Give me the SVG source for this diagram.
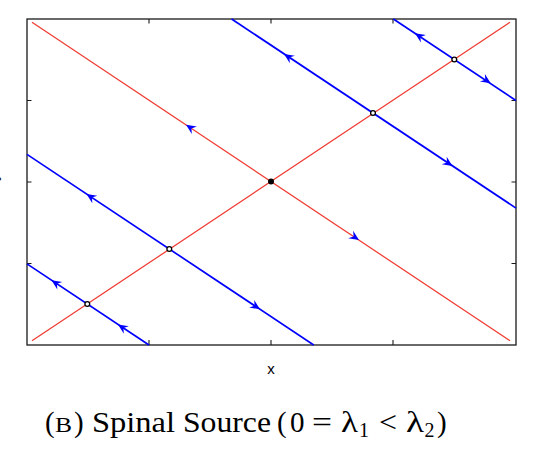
<svg xmlns="http://www.w3.org/2000/svg" xmlns:xlink="http://www.w3.org/1999/xlink" width="548" height="458" viewBox="0 0 548 458">
<style>
.frame{fill:none;stroke:#1a1a1a;stroke-width:1.3}
.tick{stroke:#1a1a1a;stroke-width:1.1}
.red{stroke:#f03c32;stroke-width:1.25;fill:none}
.blue{stroke:#0000ff;stroke-width:1.7;fill:none}
.fp{fill:#fff;stroke:#000;stroke-width:1.3}
.lbl{font-family:"Liberation Sans",Arial,sans-serif;font-size:15px;fill:#000}
.cap{font-family:"Liberation Serif","Times New Roman",serif;font-size:29px;fill:#000}
.sc{font-family:"Liberation Serif","Times New Roman",serif;font-size:21px;fill:#000}
.sub{font-family:"Liberation Serif","Times New Roman",serif;font-size:20px;fill:#000}
</style>
<defs>
<path id="ah" d="M0,0 L-10,-4.5 L-6.5,0 L-10,4.5 Z" fill="#0000ff"/>
</defs>
<rect width="548" height="458" fill="#fff"/>
<g id="axes">
<rect class="frame" x="27" y="19" width="489" height="326"/>
<path class="tick" d="M149,19v4.5M271,19v4.5M393,19v4.5M149,345v-5M271,345v-5M393,345v-5M27,100.5h4.5M27,182h4.5M27,263.5h4.5M516,100.5h-4.5M516,182h-4.5M516,263.5h-4.5"/>
<text class="lbl" x="271" y="374" text-anchor="middle">x</text>
<text class="lbl" text-anchor="middle" transform="translate(-2,177) rotate(-90)">y</text>
</g>
<g id="connectors">
<line class="red" x1="32" y1="22.2" x2="510" y2="340.8"/>
<line class="red" x1="32" y1="340.8" x2="510" y2="22.2"/>
<line class="blue" x1="393.4" y1="19" x2="516" y2="100.5"/>
<line class="blue" x1="231.6" y1="19" x2="516" y2="208.1"/>
<line class="blue" x1="27" y1="154.4" x2="313.7" y2="345"/>
<line class="blue" x1="27" y1="263.9" x2="149" y2="345"/>
<use xlink:href="#ah" transform="translate(186,124.8) rotate(213.7)"/>
<use xlink:href="#ah" transform="translate(359,240) rotate(33.7)"/>
<use xlink:href="#ah" transform="translate(415,33.3) rotate(213.7)"/>
<use xlink:href="#ah" transform="translate(490.7,83.3) rotate(33.7)"/>
<use xlink:href="#ah" transform="translate(284,54) rotate(213.7)"/>
<use xlink:href="#ah" transform="translate(452.5,166) rotate(33.7)"/>
<use xlink:href="#ah" transform="translate(86.5,194) rotate(213.7)"/>
<use xlink:href="#ah" transform="translate(260,309.3) rotate(33.7)"/>
<use xlink:href="#ah" transform="translate(51.5,280.2) rotate(213.7)"/>
<use xlink:href="#ah" transform="translate(118,324.4) rotate(213.7)"/>
</g>
<g id="origin"><circle cx="271" cy="181.5" r="3" fill="#000"/></g>
<g id="fp1"><circle class="fp" cx="454.3" cy="59.5" r="2.4"/></g>
<g id="fp2"><circle class="fp" cx="373" cy="113" r="2.4"/></g>
<g id="fp3"><circle class="fp" cx="169.3" cy="249" r="2.4"/></g>
<g id="fp4"><circle class="fp" cx="87.3" cy="304" r="2.4"/></g>
<g id="caption">
<text class="cap" x="45" y="432">(</text>
<text class="sc" x="55" y="432" textLength="17" lengthAdjust="spacingAndGlyphs">B</text>
<text class="cap" x="74" y="432">)</text>
<text class="cap" x="92" y="432" textLength="83" lengthAdjust="spacingAndGlyphs">Spinal</text>
<text class="cap" x="183" y="432" textLength="88" lengthAdjust="spacingAndGlyphs">Source</text>
<text class="cap" x="277" y="432">(</text>
<text class="cap" x="290" y="432">0</text>
<text class="cap" x="312" y="432" textLength="20" lengthAdjust="spacingAndGlyphs">=</text>
<text class="cap" x="341" y="432" textLength="17" lengthAdjust="spacingAndGlyphs">λ</text>
<text class="sub" x="359" y="437">1</text>
<text class="cap" x="379" y="432" textLength="18" lengthAdjust="spacingAndGlyphs">&lt;</text>
<text class="cap" x="406" y="432" textLength="18" lengthAdjust="spacingAndGlyphs">λ</text>
<text class="sub" x="424.5" y="437">2</text>
<text class="cap" x="437" y="432">)</text>
</g>
</svg>
